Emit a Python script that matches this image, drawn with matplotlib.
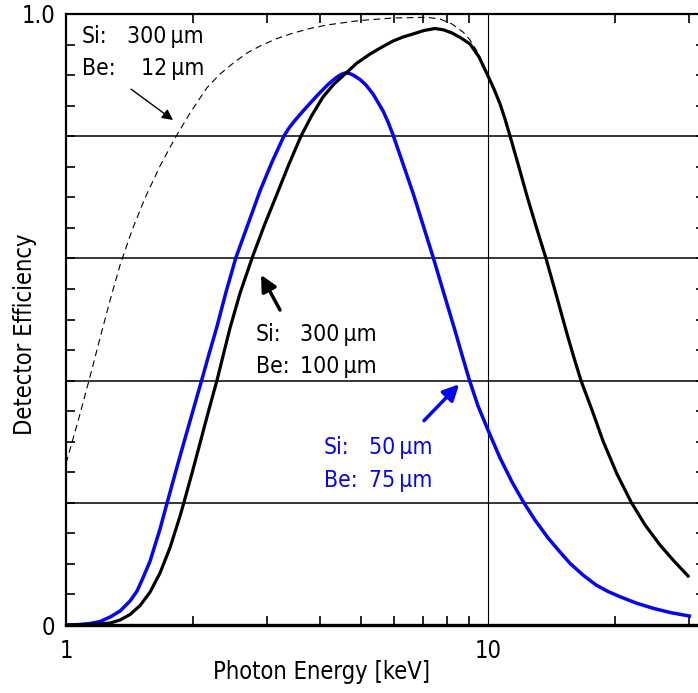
import numpy as np
import matplotlib
matplotlib.use('Agg')
from matplotlib import pyplot as plt
from matplotlib import font_manager as fm
from matplotlib.ticker import FixedLocator, NullFormatter

# narrow face if one is around, else plain Liberation
fonts = {(f.name, f.stretch) for f in fm.fontManager.ttflist}
if ('DejaVu Sans', 'condensed') in fonts:
    plt.rcParams['font.family'] = ['DejaVu Sans']
    plt.rcParams['font.stretch'] = 'condensed'
else:
    plt.rcParams['font.family'] = ['Liberation Sans', 'DejaVu Sans']

# Si 300 um / Be 100 um window
e_thick = [1.0, 1.109, 1.204, 1.272, 1.343, 1.418, 1.498, 1.582, 1.670, 1.764,
           1.863, 1.904, 1.989, 2.078, 2.170, 2.280, 2.368, 2.447, 2.585, 2.760,
           2.946, 3.162, 3.376, 3.605, 3.828, 4.064, 4.315, 4.582, 4.893, 5.253,
           5.610, 5.956, 6.290, 6.642, 7.053, 7.490, 7.867, 8.218, 8.630, 9.066,
           9.521, 10.0, 10.33, 10.68, 10.97, 11.28, 11.78, 12.37, 12.99, 13.72,
           14.49, 15.39, 15.99, 16.61, 17.74, 18.73, 20.21, 21.83, 23.56, 25.56,
           27.59, 29.79]
eff_thick = [0.0, 0.0005, 0.0016, 0.0033, 0.0082, 0.0172, 0.0319, 0.0540, 0.0851, 0.1268,
             0.1784, 0.2013, 0.2488, 0.2979, 0.3470, 0.401, 0.4468, 0.4861, 0.5434, 0.6007,
             0.6530, 0.7054, 0.7545, 0.8003, 0.8347, 0.8642, 0.8854, 0.9018, 0.9198, 0.9345,
             0.9460, 0.9558, 0.9624, 0.9673, 0.9730, 0.9763, 0.9738, 0.9689, 0.9607, 0.9509,
             0.9296, 0.8985, 0.8773, 0.8527, 0.8282, 0.800, 0.7545, 0.7021, 0.6530, 0.600,
             0.5417, 0.4763, 0.4370, 0.400, 0.3470, 0.3011, 0.2471, 0.2013, 0.1637, 0.1309,
             0.1047, 0.0802]

# Si 50 um / Be 75 um window
e_thin = [1.0, 1.079, 1.140, 1.204, 1.272, 1.343, 1.418, 1.473, 1.525, 1.582,
          1.670, 1.738, 1.843, 1.967, 2.097, 2.182, 2.276, 2.394, 2.525, 2.700,
          2.883, 3.077, 3.286, 3.376, 3.470, 3.645, 3.848, 3.999, 4.154, 4.269,
          4.387, 4.484, 4.582, 4.684, 4.786, 4.973, 5.138, 5.339, 5.641, 5.796,
          5.965, 6.290, 6.653, 7.015, 7.421, 7.867, 8.353, 8.677, 9.032, 9.470,
          10.02, 10.68, 11.40, 12.13, 12.92, 13.88, 14.81, 15.64, 16.79, 18.03,
          19.25, 20.55, 22.43, 24.64, 27.00, 30.0]
eff_thin = [0.0, 0.0008, 0.0025, 0.0057, 0.0131, 0.0229, 0.0393, 0.0556, 0.0786, 0.1047,
            0.1571, 0.2013, 0.2651, 0.3339, 0.4010, 0.4435, 0.4872, 0.5450, 0.6007, 0.6563,
            0.7108, 0.7578, 0.8008, 0.8134, 0.8241, 0.8412, 0.8592, 0.8715, 0.8830, 0.8903,
            0.8969, 0.9010, 0.9034, 0.9030, 0.9002, 0.8928, 0.8838, 0.8691, 0.8412, 0.8232,
            0.8008, 0.7545, 0.7054, 0.6547, 0.6007, 0.5417, 0.4817, 0.4419, 0.4010, 0.3584,
            0.3175, 0.2733, 0.2340, 0.2013, 0.1718, 0.1424, 0.1195, 0.1010, 0.0818, 0.0655,
            0.0548, 0.0463, 0.0360, 0.0273, 0.0205, 0.0147]

# Si 300 um / Be 12 um window
e_win = [1.0, 1.068, 1.136, 1.204, 1.272, 1.343, 1.434, 1.539, 1.670, 1.813,
         1.967, 2.155, 2.317, 2.492, 2.685, 2.883, 3.162, 3.457, 3.786, 4.148,
         4.973, 5.965, 7.158, 7.698, 8.218, 8.741, 9.066, 9.403, 9.731]
eff_win = [0.2647, 0.3339, 0.4026, 0.4697, 0.5319, 0.5892, 0.6465, 0.6989, 0.7512, 0.7971,
           0.8380, 0.8789, 0.9018, 0.9198, 0.9362, 0.9476, 0.9599, 0.9689, 0.9763, 0.9820,
           0.9894, 0.9935, 0.9946, 0.9918, 0.9836, 0.9700, 0.9574, 0.9399, 0.9182]

blue = '#0505f0'

fig = plt.figure(figsize=(6.98, 6.93), dpi=100)
ax = fig.add_axes([0.0946, 0.0981, 0.9155, 0.8817])
ax.set_xscale('log')
ax.set_xlim(1, 32.68)
ax.set_ylim(0, 1)

for g in [0.2, 0.4, 0.6, 0.8]:
    ax.axhline(g, color='black', lw=1.1, zorder=1)
ax.axvline(10, color='black', lw=0.8, zorder=1)

ax.plot(e_win, eff_win, color='black', lw=0.8, dashes=(6, 4), zorder=2)
ax.plot(e_thin, eff_thin, color=blue, lw=2.5, zorder=3)
ax.plot(e_thick, eff_thick, color='black', lw=2.3, zorder=4)

# ticks
ax.set_xticks([1, 10])
ax.set_xticklabels(['1', '10'])
ax.xaxis.set_minor_locator(FixedLocator([2, 3, 4, 5, 6, 7, 8, 9, 20, 30]))
ax.xaxis.set_minor_formatter(NullFormatter())
ax.set_yticks([0, 1])
ax.set_yticklabels(['0', '1.0'])
ax.yaxis.set_minor_locator(FixedLocator(np.arange(0.05, 1.0, 0.05)))
ax.tick_params(which='both', direction='in', top=True, right=True, labelsize=17)
ax.tick_params(axis='x', which='major', length=0, pad=10)
ax.tick_params(axis='y', which='major', length=0, pad=7.5)
ax.tick_params(which='minor', length=6.7, width=1.2)

ax.spines['bottom'].set_linewidth(2.4)
ax.spines['left'].set_linewidth(1.6)
ax.spines['top'].set_linewidth(1.6)
ax.spines['right'].set_linewidth(1.6)

ax.set_xlabel('Photon Energy [keV]', fontsize=17)
ax.set_ylabel('Detector Efficiency', fontsize=17)
ax.xaxis.set_label_coords(0.4, -0.058)
ax.yaxis.set_label_coords(-0.045, 0.476)

fs = 16.5
um = '\u2009µm'
# Si 300 / Be 12
ax.text(1.091, 0.9525, 'Si:', fontsize=fs)
ax.text(2.123, 0.9525, '300' + um, fontsize=fs, ha='right')
ax.text(1.091, 0.900, 'Be:', fontsize=fs)
ax.text(2.123, 0.900, '12' + um, fontsize=fs, ha='right')
ax.annotate('', xy=(1.793, 0.8265), xytext=(1.426, 0.877),
            arrowprops=dict(arrowstyle='-|>', color='black', lw=1.0,
                            mutation_scale=16, shrinkA=0, shrinkB=0))

# Si 300 / Be 100
ax.text(2.82, 0.4648, 'Si:', fontsize=fs)
ax.text(5.46, 0.4648, '300' + um, fontsize=fs, ha='right')
ax.text(2.82, 0.4124, 'Be:', fontsize=fs)
ax.text(5.46, 0.4124, '100' + um, fontsize=fs, ha='right')
ax.annotate('', xy=(2.898, 0.573), xytext=(3.214, 0.5155),
            arrowprops=dict(arrowstyle='-|>', color='black', lw=2.5,
                            mutation_scale=24, shrinkA=0, shrinkB=0))

# Si 50 / Be 75
ax.text(4.087, 0.280, 'Si:', fontsize=fs, color=blue)
ax.text(7.37, 0.280, '50' + um, fontsize=fs, ha='right', color=blue)
ax.text(4.087, 0.226, 'Be:', fontsize=fs, color=blue)
ax.text(7.37, 0.226, '75' + um, fontsize=fs, ha='right', color=blue)
ax.annotate('', xy=(8.54, 0.394), xytext=(7.05, 0.3344),
            arrowprops=dict(arrowstyle='-|>', color=blue, lw=2.5,
                            mutation_scale=24, shrinkA=0, shrinkB=0))

fig.savefig('out.png', dpi=100)
